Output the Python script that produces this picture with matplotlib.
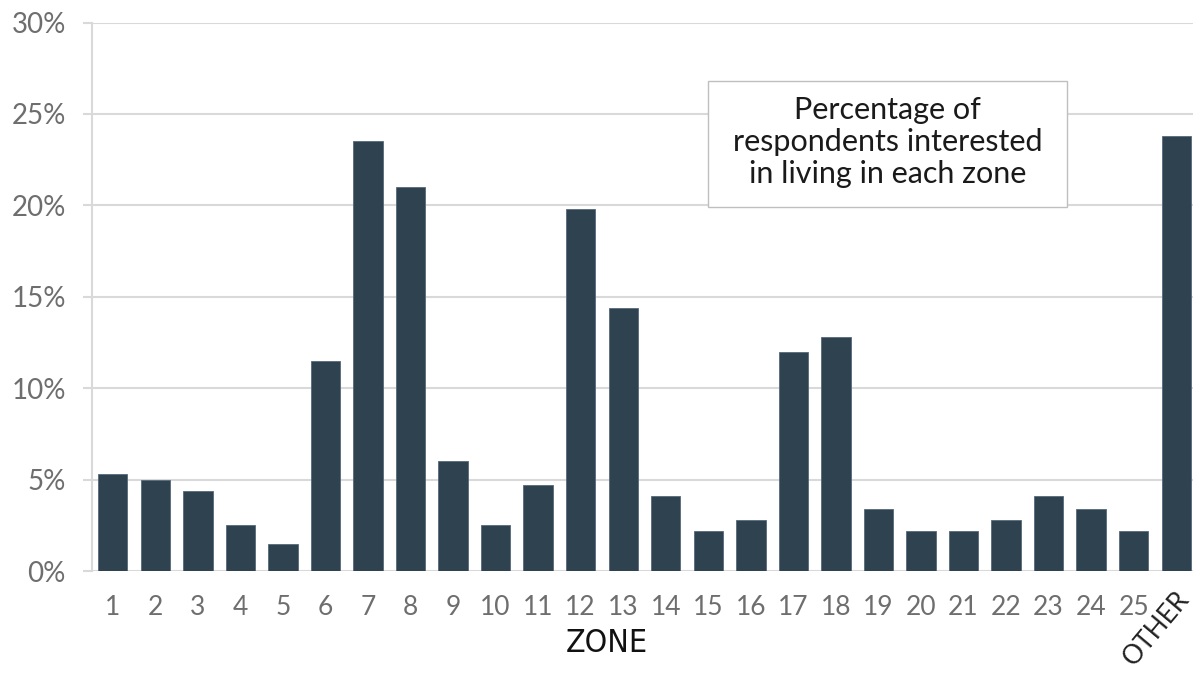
import matplotlib
matplotlib.use("Agg")
import matplotlib.pyplot as plt
from matplotlib.patches import Rectangle
from matplotlib.ticker import FuncFormatter, MultipleLocator
from matplotlib.transforms import ScaledTranslation

# Share of respondents interested in living in each zone (percent)
zones = [str(i) for i in range(1, 26)] + ["OTHER"]
shares = [5.3, 5.0, 4.4, 2.5, 1.5, 11.5, 23.5, 21.0, 6.0, 2.5,
          4.7, 19.8, 14.4, 4.1, 2.2, 2.8, 12.0, 12.8, 3.4, 2.2,
          2.2, 2.8, 4.1, 3.4, 2.2, 23.8]

bar_color = "#2E4250"
grid_color = "#D9D9D9"
label_color = "#6E6E6E"

plt.rcParams["font.family"] = ["Lato", "DejaVu Sans"]

fig = plt.figure(figsize=(11.93, 6.9), dpi=100)
W, H = 1193, 690
left_px, right_px = 91.5, 1197.5
bottom_px, top_px = 571, 22.5
ax = fig.add_axes([left_px / W, 1 - bottom_px / H,
                   (right_px - left_px) / W, (bottom_px - top_px) / H])

x = list(range(len(zones)))
ax.bar(x, shares, width=0.69, color=bar_color, edgecolor="#56687A",
       linewidth=0.6, zorder=3)

ax.set_xlim(-0.5, len(zones) - 0.5)
ax.set_ylim(0, 30)
ax.yaxis.set_major_locator(MultipleLocator(5))
ax.yaxis.set_major_formatter(FuncFormatter(lambda v, _: f"{v:.0f}%"))
ax.grid(axis="y", color=grid_color, linewidth=1.5, zorder=0)
ax.set_axisbelow(True)

for side in ["top", "right", "bottom"]:
    ax.spines[side].set_visible(False)
ax.spines["left"].set_color(grid_color)
ax.spines["left"].set_linewidth(1.5)

ax.tick_params(axis="y", length=6.5, width=1.5, color=grid_color,
               labelsize=20, labelcolor=label_color, pad=12)
ax.tick_params(axis="x", length=0, labelsize=19, labelcolor=label_color, pad=17)

ax.set_xticks(x)
ax.set_xticklabels(zones)
other = ax.get_xticklabels()[-1]
other.set_rotation(50)
other.set_color("#222222")
other.set_fontsize(19)
other.set_ha("center")
other.set_transform(other.get_transform() +
                    ScaledTranslation(-0.2, 0.08, fig.dpi_scale_trans))

# Axis title
fig.text(607 / W, 1 - 644 / H, "ZONE",
         family="DejaVu Sans", fontstretch="condensed",
         fontsize=23, color="#111111", ha="center", va="center")

# Caption box
bx0, bx1 = (707.7 - left_px) / (right_px - left_px), (1067 - left_px) / (right_px - left_px)
by0, by1 = (bottom_px - 207) / (bottom_px - top_px), (bottom_px - 81) / (bottom_px - top_px)
ax.add_patch(Rectangle((bx0, by0), bx1 - bx0, by1 - by0, transform=ax.transAxes,
                       facecolor="white", edgecolor="#BFBFBF", linewidth=1.0,
                       zorder=4))
ax.text((bx0 + bx1) / 2, (by0 + by1) / 2 + 0.003,
        "Percentage of\nrespondents interested\nin living in each zone",
        transform=ax.transAxes, ha="center", va="center", fontsize=22,
        color="#1A1A1A", linespacing=1.18, zorder=5)

fig.savefig("out.png", dpi=100)
